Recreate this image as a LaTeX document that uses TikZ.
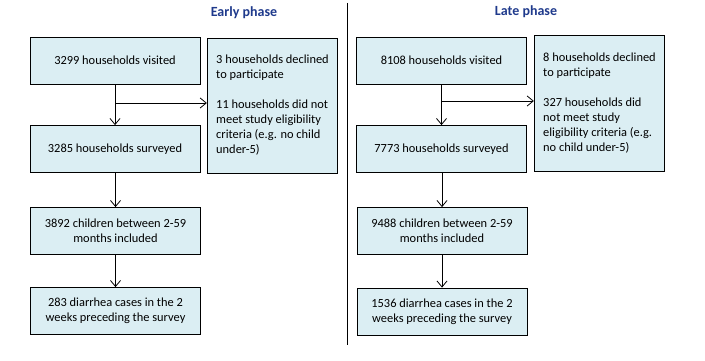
\documentclass[tikz,border=0pt]{standalone}
\usepackage{fontspec}
\setmainfont{Carlito}
\usepackage{tikz}
\usetikzlibrary{arrows.meta,positioning,calc}
\definecolor{boxfill}{HTML}{DBEEF3}
\definecolor{navy}{HTML}{1F3A8C}
\tikzset{
  >={Straight Barb[length=6pt,width=10pt]},
  every node/.style={font=\fontsize{12.4}{15}\selectfont,text=black},
  flowbox/.style={draw=black,line width=0.8pt,fill=boxfill,align=center,inner sep=3pt,minimum width=170pt,minimum height=47pt},
  sidebox/.style={flowbox,align=left,minimum width=129pt,minimum height=135pt,inner xsep=9pt},
  phase/.style={font=\fontsize{14}{16}\selectfont\bfseries,text=navy},
  arrow/.style={->,line width=0.8pt,draw=black}
}
\begin{document}
\begin{tikzpicture}[x=1pt,y=-1pt]
  \useasboundingbox (0,0) rectangle (705,361);

  % early phase
  \node[phase] (early) at (244,13) {Early phase};
  \node[flowbox] (visitedA) at (115,60.5) {3299 households visited};
  \node[flowbox] (surveyedA) at (115,149) {3285 households surveyed};
  \node[flowbox] (childrenA) at (115.5,231) {3892 children between 2-59\\months included};
  \node[flowbox] (casesA) at (115.5,311) {283 diarrhea cases in the 2\\weeks preceding the survey};
  \node[sidebox] (excludedA) at (272.5,105.5) {3 households declined\\to participate\\[15pt]11 households did not\\meet study eligibility\\criteria (e.g. no child\\under-5)};
  \coordinate (forkA) at (115,103);

  % late phase
  \node[phase] (late) at (526,12) {Late phase};
  \node[flowbox] (visitedB) at (441.5,60.5) {8108 households visited};
  \node[flowbox] (surveyedB) at (441.5,149) {7773 households surveyed};
  \node[flowbox] (childrenB) at (442,231) {9488 children between 2-59\\months included};
  \node[flowbox] (casesB) at (442,311.5) {1536 diarrhea cases in the 2\\weeks preceding the survey};
  \node[sidebox,minimum height=136pt] (excludedB) at (599.5,103) {8 households declined\\to participate\\[15pt]327 households did\\not meet study\\eligibility criteria (e.g.\\no child under-5)};
  \coordinate (forkB) at (441.5,101);

  % connectors
  \draw[arrow] (visitedA) -- (surveyedA);
  \draw[arrow] (forkA) -- (forkA -| excludedA.west);
  \draw[arrow] (surveyedA.south -| childrenA) -- (childrenA);
  \draw[arrow] (childrenA) -- (casesA);
  \draw[arrow] (visitedB) -- (surveyedB);
  \draw[arrow] (forkB) -- (forkB -| excludedB.west);
  \draw[arrow] (surveyedB.south -| childrenB) -- (childrenB);
  \draw[arrow] (childrenB) -- (casesB);

  % divider
  \draw[line width=0.8pt] (347,3) -- (347,345);
\end{tikzpicture}
\end{document}
